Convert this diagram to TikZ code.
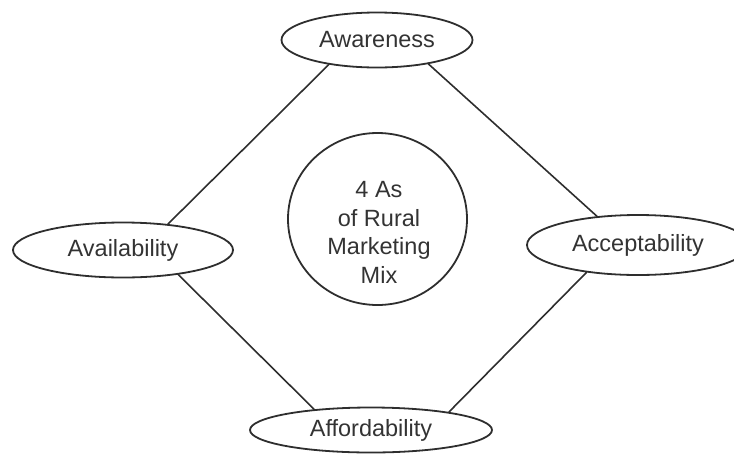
\documentclass[tikz,border=0pt]{standalone}
\usepackage{fontspec}
\setmainfont{Liberation Sans}
\usetikzlibrary{shapes.geometric}

\tikzset{
  ink/.style={draw=black!82, line width=1.8pt},
  aspect/.style={ink, ellipse, inner sep=0pt, text=black!80,
    font=\fontsize{23.5}{27}\selectfont},
  hubring/.style={ink, ellipse, inner sep=0pt},
  hubtext/.style={align=center, inner sep=0pt, text=black!80,
    font=\fontsize{23.5}{28.7}\selectfont},
  link/.style={draw=black!82, line width=1.6pt, line cap=round},
}

\begin{document}
\begin{tikzpicture}[x=1pt, y=-1pt]
  \useasboundingbox (0,0) rectangle (734,472);

  % the four As around the mix
  \node[aspect, minimum width=191pt, minimum height=55pt] (aw) at (377,40) {Awareness};
  \node[aspect, minimum width=220pt, minimum height=55pt] (av) at (123,250) {Availability};
  \node[aspect, minimum width=222pt, minimum height=60pt] (ac) at (638,245) {Acceptability};
  \node[aspect, minimum width=242pt, minimum height=45pt] (af) at (371,430) {Affordability};

  % central hub
  \node[hubring, minimum width=179pt, minimum height=172pt] (hub) at (377.5,219) {};
  \node[hubtext] (hublabel) at (379,232.5) {4 As\\of Rural\\Marketing\\Mix};

  % diamond of connectors
  \draw[link] (aw.207) -- (av.30);
  \draw[link] (aw.335) -- (ac.145);
  \draw[link] (av.336) -- (af.160);
  \draw[link] (ac.208) -- (af.13);
\end{tikzpicture}
\end{document}
